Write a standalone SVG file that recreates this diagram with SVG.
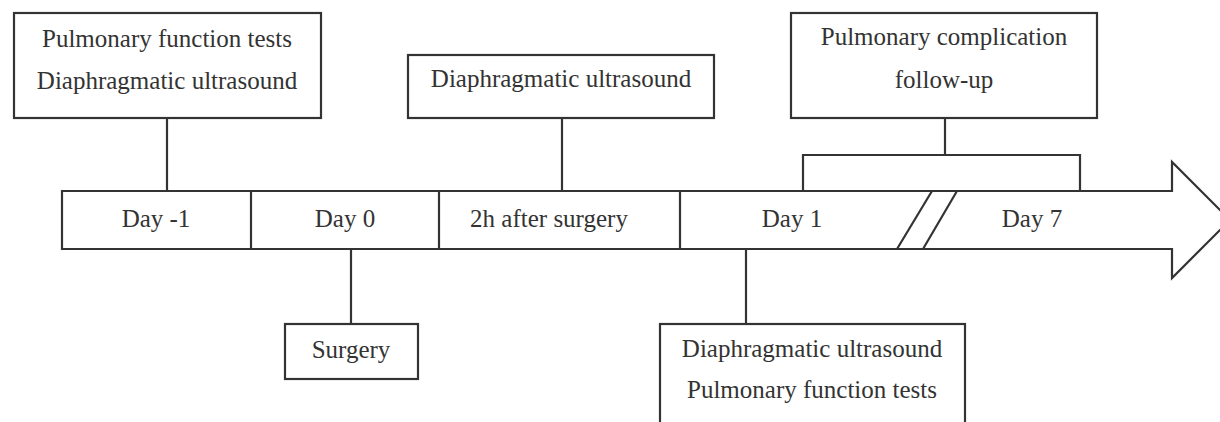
<svg xmlns="http://www.w3.org/2000/svg" width="1220" height="422" viewBox="0 0 1220 422">
<style>
.box{fill:#fff;stroke:#333;stroke-width:2.2}
.ln{fill:none;stroke:#333;stroke-width:2.2}
text{font-family:"Liberation Serif","Times New Roman",serif;font-size:25px;fill:#333;text-anchor:middle}
</style>
<rect width="1220" height="422" fill="#fff"/>
<g id="connectors">
<line class="ln" x1="167" y1="118" x2="167" y2="191"/>
<line class="ln" x1="562" y1="118" x2="562" y2="191"/>
<line class="ln" x1="945" y1="118" x2="945" y2="155"/>
<polyline class="ln" points="803,191 803,155 1080,155 1080,191"/>
<line class="ln" x1="351" y1="249" x2="351" y2="324"/>
<line class="ln" x1="746" y1="249" x2="746" y2="324"/>
</g>
<g id="timeline">
<polygon class="box" points="62,191 1172,191 1172,162 1230,220 1172,278 1172,249 62,249"/>
<line class="ln" x1="251" y1="191" x2="251" y2="249"/>
<line class="ln" x1="439" y1="191" x2="439" y2="249"/>
<line class="ln" x1="680" y1="191" x2="680" y2="249"/>
<line class="ln" x1="932" y1="191" x2="897" y2="249"/>
<line class="ln" x1="957" y1="191" x2="923" y2="249"/>
<text x="156" y="227">Day -1</text>
<text x="345" y="227">Day 0</text>
<text x="549" y="227">2h after surgery</text>
<text x="792" y="227">Day 1</text>
<text x="1032" y="227">Day 7</text>
</g>
<g id="node-pre">
<rect class="box" x="14" y="13" width="307" height="105"/>
<text x="167" y="47">Pulmonary function tests</text>
<text x="167" y="89">Diaphragmatic ultrasound</text>
</g>
<g id="node-2h">
<rect class="box" x="408" y="55" width="306" height="63"/>
<text x="561" y="87">Diaphragmatic ultrasound</text>
</g>
<g id="node-followup">
<rect class="box" x="791" y="13" width="306" height="105"/>
<text x="944" y="45">Pulmonary complication</text>
<text x="944" y="88">follow-up</text>
</g>
<g id="node-surgery">
<rect class="box" x="285" y="324" width="133" height="55"/>
<text x="351" y="358">Surgery</text>
</g>
<g id="node-day1">
<rect class="box" x="660" y="324" width="305" height="110"/>
<text x="812" y="357">Diaphragmatic ultrasound</text>
<text x="812" y="398">Pulmonary function tests</text>
</g>
</svg>
